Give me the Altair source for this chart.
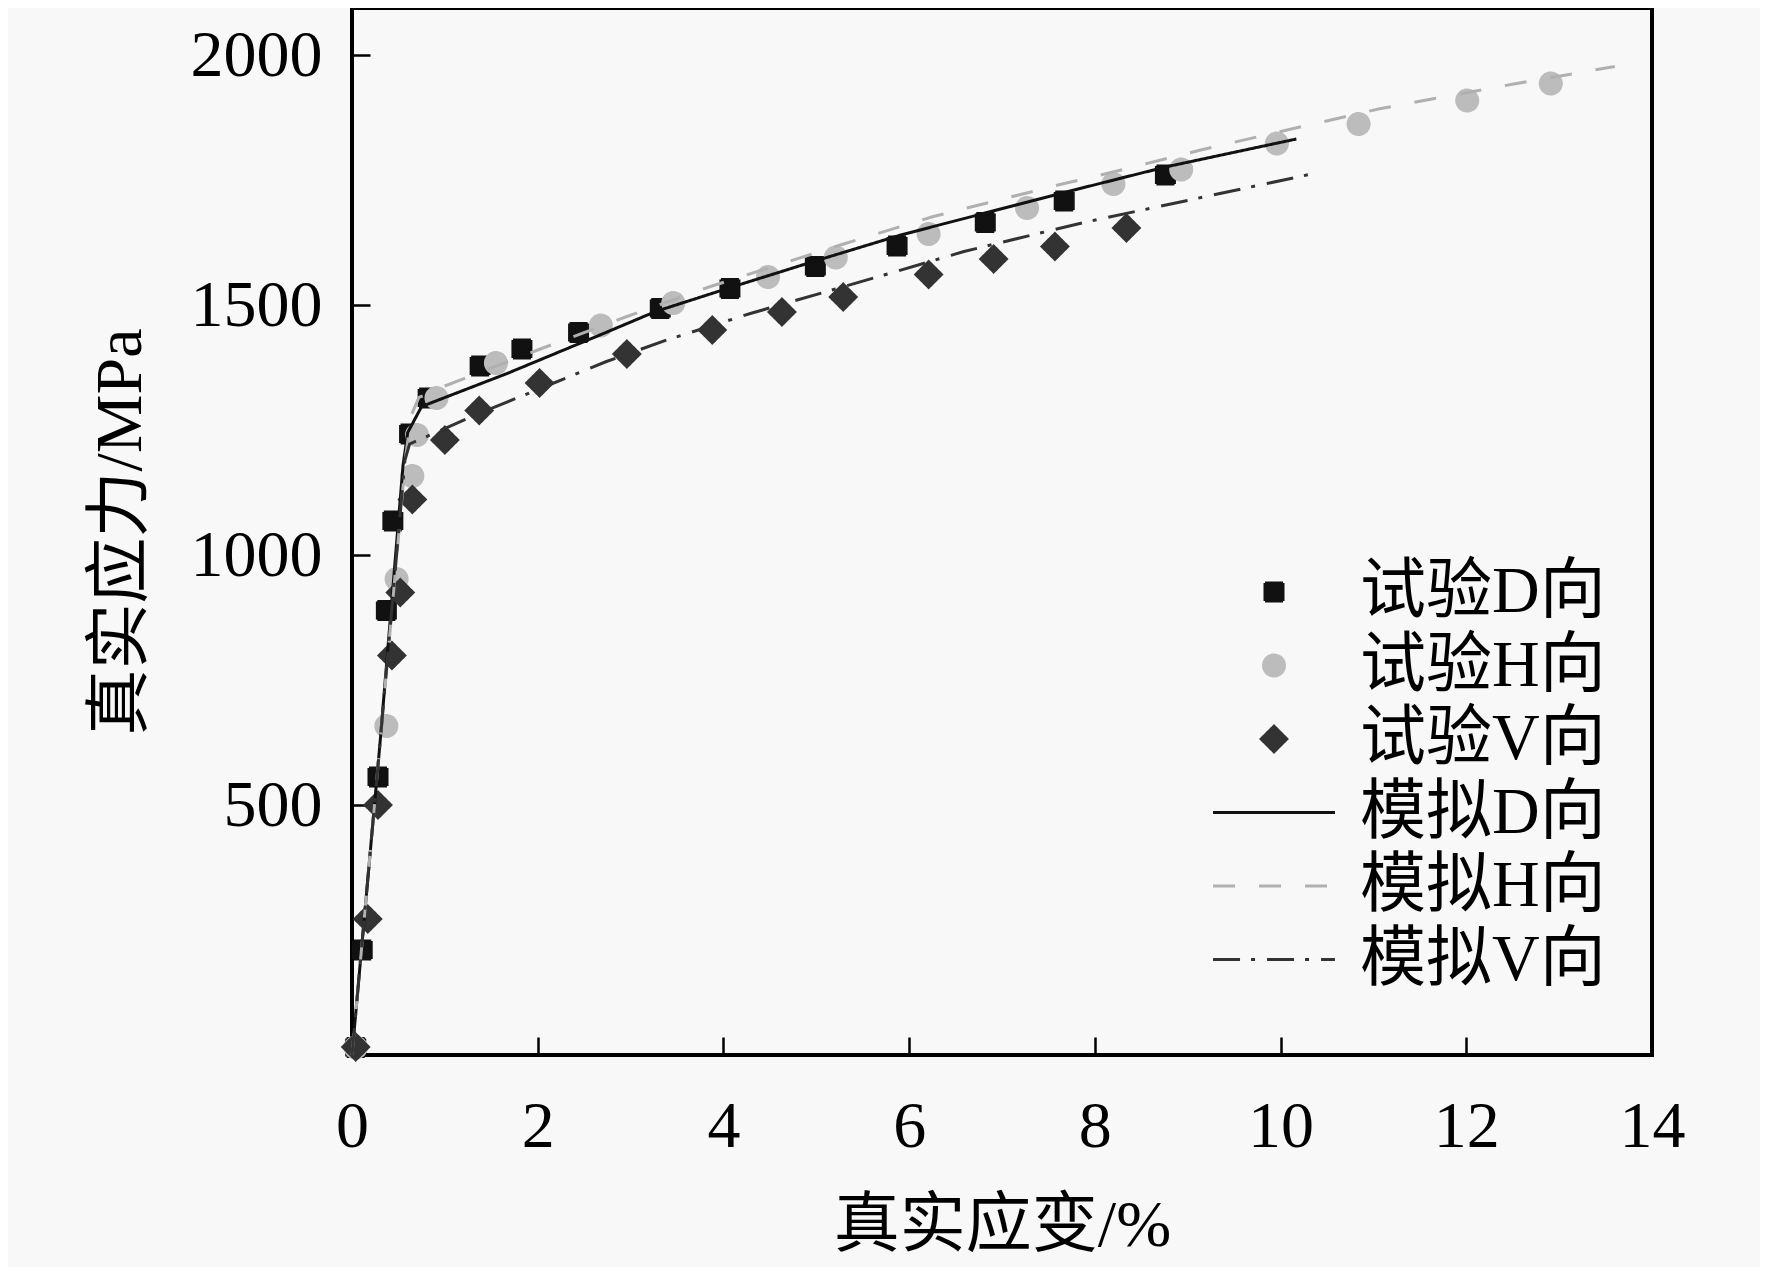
import altair as alt
import pandas as pd

# ---------------- data ----------------
SERIES = ["试验D向", "试验H向", "试验V向", "模拟D向", "模拟H向", "模拟V向"]

exp_D_x = [0.04, 0.11, 0.28, 0.37, 0.44, 0.62, 0.82, 1.38, 1.83, 2.44, 3.32, 4.07, 4.99, 5.87, 6.82, 7.67, 8.76]
exp_D_y = [15, 210, 556, 889, 1068, 1242, 1314, 1378, 1412, 1445, 1493, 1533, 1577, 1618, 1665, 1708, 1760]

exp_H_x = [0.04, 0.37, 0.48, 0.65, 0.70, 0.91, 1.55, 2.68, 3.46, 4.48, 5.21, 6.21, 7.27, 8.20, 8.93, 9.96, 10.84, 12.01, 12.91]
exp_H_y = [15, 658, 952, 1158, 1240, 1314, 1384, 1459, 1504, 1556, 1595, 1642, 1694, 1742, 1771, 1823, 1862, 1909, 1943]

exp_V_x = [0.04, 0.17, 0.28, 0.43, 0.52, 0.65, 1.00, 1.37, 2.02, 2.96, 3.88, 4.63, 5.29, 6.21, 6.91, 7.57, 8.34]
exp_V_y = [16, 272, 500, 799, 925, 1111, 1230, 1289, 1344, 1402, 1450, 1486, 1516, 1561, 1592, 1617, 1654]

sim_D_x = [0, 0.30, 0.55, 0.60, 0.75, 1.67, 2.67, 3.27, 4.11, 4.97, 5.91, 6.80, 7.84, 8.76, 10.17]
sim_D_y = [0, 620, 1180, 1245, 1297, 1363, 1440, 1487, 1537, 1587, 1640, 1683, 1733, 1776, 1832]

sim_H_x = [0, 0.30, 0.58, 0.64, 0.72, 1.00, 2.00, 2.96, 3.86, 5.26, 6.26, 7.67, 8.13, 9.14, 10.07, 11.08, 12.51, 13.60]
sim_H_y = [0, 620, 1200, 1280, 1315, 1338, 1410, 1477, 1537, 1620, 1677, 1743, 1763, 1810, 1850, 1893, 1942, 1977]

sim_V_x = [0, 0.30, 0.57, 0.62, 1.38, 2.74, 3.39, 4.29, 5.73, 6.59, 7.88, 10.36]
sim_V_y = [0, 620, 1190, 1222, 1284, 1387, 1430, 1483, 1560, 1607, 1665, 1763]

x_ticks = [0, 2, 4, 6, 8, 10, 12, 14]
x_inner_ticks = [2, 4, 6, 8, 10, 12]
y_ticks = [500, 1000, 1500, 2000]

X_TITLE = "真实应变/%"
Y_TITLE = "真实应力/MPa"


def frame(name, xs, ys):
    return pd.DataFrame({"series": name, "x": xs, "y": ys, "i": list(range(len(xs)))})


points_df = pd.concat([
    frame(SERIES[0], exp_D_x, exp_D_y),
    frame(SERIES[1], exp_H_x, exp_H_y),
    frame(SERIES[2], exp_V_x, exp_V_y),
], ignore_index=True)

lines_df = pd.concat([
    frame(SERIES[3], sim_D_x, sim_D_y),
    frame(SERIES[4], sim_H_x, sim_H_y),
    frame(SERIES[5], sim_V_x, sim_V_y),
], ignore_index=True)

# ---------------- styles ----------------
FONT = "Liberation Serif, Noto Sans CJK SC"
FS = 66
W, H = 1300, 1047

COLORS = ["#111111", "#bcbcbc", "#333333", "#111111", "#b0b0b0", "#333333"]
LINE_PATH = "M-5.08,0H5.08"
SHAPES = [
    "M-0.75,-0.75H0.75V0.75H-0.75Z",
    "M-0.875,0A0.875,0.875,0,1,1,0.875,0A0.875,0.875,0,1,1,-0.875,0Z",
    "M-1.07,0L0,-1.07L1.07,0L0,1.07Z",
    LINE_PATH, LINE_PATH, LINE_PATH,
]
DASHES = [[1, 0], [1, 0], [1, 0], [1, 0], [22, 24], [27, 11, 4, 12]]

xs = alt.Scale(domain=[0, 14], nice=False, zero=False)
ys = alt.Scale(domain=[0, 2094], nice=False, zero=False)
color_scale = alt.Scale(domain=SERIES, range=COLORS)
shape_scale = alt.Scale(domain=SERIES, range=SHAPES)
dash_scale = alt.Scale(domain=SERIES, range=DASHES)


def legend():
    return alt.Legend(
        orient="none", legendX=889, legendY=551, title=None,
        symbolSize=576, symbolStrokeWidth=3, symbolOffset=0,
        labelFont=FONT, labelFontSize=FS, labelColor="black",
        labelOffset=53, labelLimit=600, rowPadding=7.5, padding=0,
    )


points = alt.Chart(points_df).mark_point(
    filled=True, size=576, strokeWidth=3, opacity=1
).encode(
    x=alt.X("x:Q", scale=xs, axis=alt.Axis(
        orient="top", offset=-H, labels=False, ticks=True, tickSize=18,
        tickWidth=2.5, tickColor="black", domain=False, grid=False,
        title=None, values=x_inner_ticks)),
    y=alt.Y("y:Q", scale=ys, axis=alt.Axis(
        orient="right", offset=-W, labels=False, ticks=True, tickSize=18,
        tickWidth=2.5, tickColor="black", domain=False, grid=False,
        title=None, values=y_ticks)),
    color=alt.Color("series:N", scale=color_scale, legend=legend()),
    stroke=alt.Stroke("series:N", scale=color_scale, legend=legend()),
    shape=alt.Shape("series:N", scale=shape_scale, legend=legend()),
    strokeDash=alt.StrokeDash("series:N", scale=dash_scale, legend=legend()),
)

lines = alt.Chart(lines_df).mark_line(strokeWidth=3).encode(
    x=alt.X("x:Q", scale=xs, axis=alt.Axis(
        orient="bottom", values=x_ticks, ticks=False, tickSize=0, format="d",
        labelFlush=False, labelOverlap=False,
        labelPadding=39, labelFont=FONT, labelFontSize=FS, labelColor="black",
        title=X_TITLE, titleFont=FONT, titleFontSize=FS, titleFontWeight="normal",
        titleColor="black", titlePadding=34, domain=False, grid=False)),
    y=alt.Y("y:Q", scale=ys, axis=alt.Axis(
        orient="left", values=y_ticks, ticks=False, tickSize=0, format="d",
        labelFlush=False, labelOverlap=False,
        labelPadding=30, labelFont=FONT, labelFontSize=FS, labelColor="black",
        title=Y_TITLE, titleFont=FONT, titleFontSize=FS, titleFontWeight="normal",
        titleColor="black", titlePadding=36, domain=False, grid=False)),
    stroke=alt.Stroke("series:N", scale=color_scale, legend=None),
    strokeDash=alt.StrokeDash("series:N", scale=dash_scale, legend=None),
    order="i:Q",
)

chart = alt.layer(points, lines).resolve_axis(x="independent", y="independent").properties(
    width=W, height=H,
    autosize=alt.AutoSizeParams(type="none"),
    padding={"left": 344, "top": 0, "right": 108, "bottom": 212},
    background="#f8f8f8",
).configure_view(stroke="black", strokeWidth=4)

chart.save("out.html", embed_options={"renderer": "svg", "actions": False})
